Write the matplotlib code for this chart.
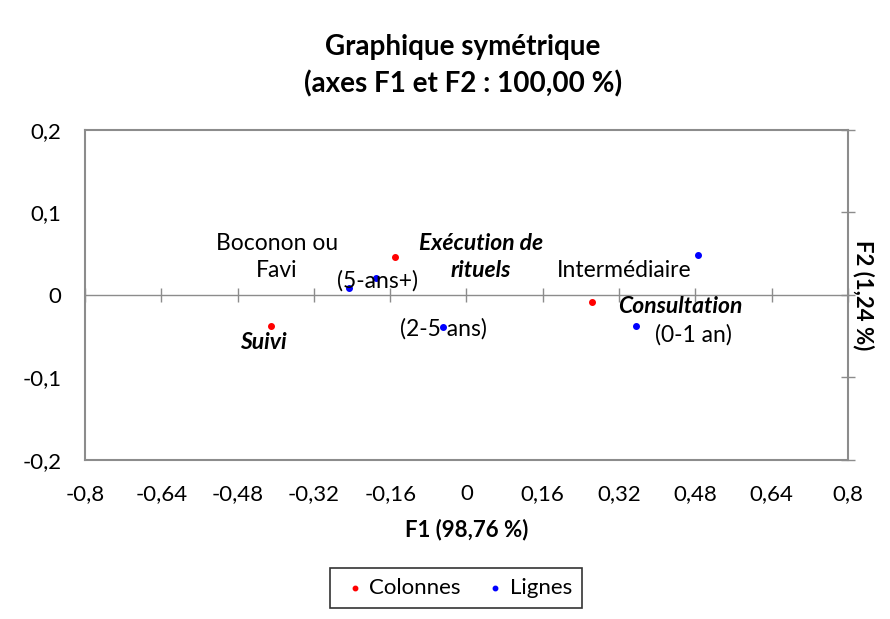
import matplotlib
matplotlib.use("Agg")
import matplotlib.pyplot as plt

plt.rcParams['font.family'] = ['Lato', 'DejaVu Sans']

# colonnes (rouge)
col_names = ["Exécution de\nrituels", "Suivi", "Consultation"]
col_f1 = [-0.150, -0.409, 0.264]
col_f2 = [0.046, -0.037, -0.009]

# lignes (bleu)
row_names = ["Boconon ou\nFavi", "(5-ans+)", "(2-5 ans)", "(0-1 an)", "Intermédiaire"]
row_f1 = [-0.246, -0.190, -0.049, 0.356, 0.486]
row_f2 = [0.009, 0.021, -0.039, -0.037, 0.048]

xticks = [-0.8, -0.64, -0.48, -0.32, -0.16, 0, 0.16, 0.32, 0.48, 0.64, 0.8]
yticks = [-0.2, -0.1, 0, 0.1, 0.2]

# label offsets in points (manually placed like the original)
col_offsets = [(62, 0), (-6, -12), (63, -3)]
row_offsets = [(-52, 22), (1, -2), (0, -1), (41, -7), (-53, -11)]

def fr(v):
    s = ("%g" % v).replace(".", ",")
    return s

fig = plt.figure(figsize=(8.9, 6.19), dpi=100)
ax = fig.add_axes([0.0955, 0.2569, 0.8573, 0.5331])

grey = "#8c8c8c"
fs = 16.5
ax.scatter(col_f1, col_f2, s=16, color="red", zorder=3, label="Colonnes")
ax.scatter(row_f1, row_f2, s=16, color="blue", zorder=3, label="Lignes")

for name, x, y, off in zip(col_names, col_f1, col_f2, col_offsets):
    ax.annotate(name, (x, y), xytext=off, textcoords="offset points",
                ha="center", va="center", fontsize=fs, fontweight="bold",
                fontstyle="italic", linespacing=1.35, color="black")
for name, x, y, off in zip(row_names, row_f1, row_f2, row_offsets):
    ax.annotate(name, (x, y), xytext=off, textcoords="offset points",
                ha="center", va="center", fontsize=fs, linespacing=1.4,
                color="black")

ax.set_xlim(-0.8, 0.8)
ax.set_ylim(-0.2, 0.2)
ax.set_xticks(xticks)
ax.set_xticklabels([fr(v) for v in xticks])
ax.set_yticks(yticks)
ax.set_yticklabels([fr(v) for v in yticks])

for sp in ax.spines.values():
    sp.set_color(grey)
    sp.set_linewidth(1.5)

ax.tick_params(axis="x", bottom=False, labelsize=16, pad=14)
ax.tick_params(axis="y", left=False, right=True, labelleft=True,
               labelright=False, direction="inout", length=10,
               color=grey, width=1, labelsize=16, pad=12)

# horizontal axis through y = 0
sec = ax.secondary_xaxis(0.5)
sec.set_xticks(xticks)
sec.tick_params(axis="x", direction="inout", length=10, color=grey,
                width=1, labelbottom=False, labeltop=False)
for sp in sec.spines.values():
    sp.set_color(grey)
    sp.set_linewidth(1)

ax.set_xlabel("F1 (98,76 %)", fontsize=16, fontweight="bold", labelpad=10)
ax.yaxis.set_label_position("right")
ax.set_ylabel("F2 (1,24 %)", fontsize=16, fontweight="bold",
              rotation=-90, labelpad=14)

fig.text(0.52, 0.894, "Graphique symétrique\n(axes F1 et F2 : 100,00 %)",
         ha="center", va="center", fontsize=20, fontweight="bold",
         linespacing=1.45)

leg = fig.legend(loc="center", bbox_to_anchor=(0.5125, 0.05), ncol=2,
                 frameon=True, fancybox=False, fontsize=16,
                 handletextpad=0.0, columnspacing=0.9, markerscale=0.8,
                 borderpad=0.45, borderaxespad=0, handlelength=1.3)
leg.get_frame().set_edgecolor("black")
leg.get_frame().set_linewidth(1.2)

fig.savefig("out.png", dpi=100)
